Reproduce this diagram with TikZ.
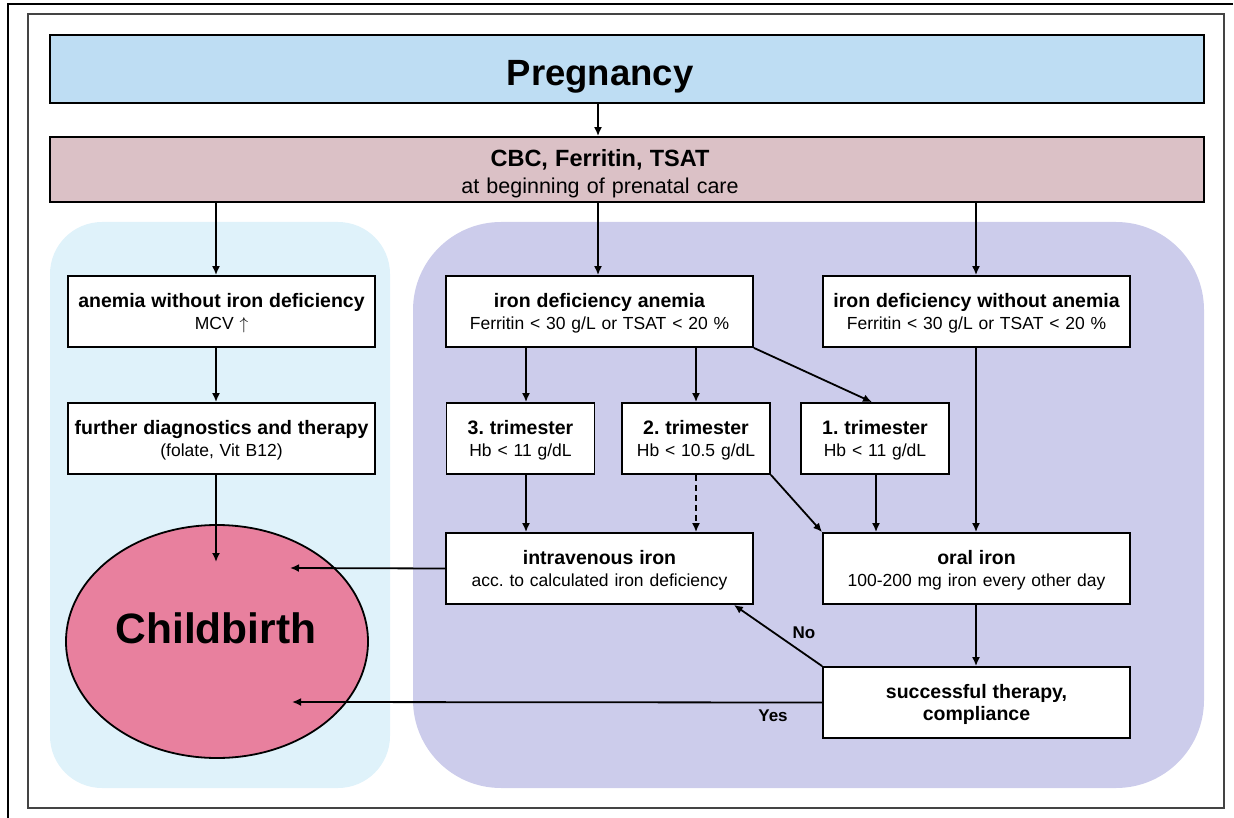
\documentclass[tikz,border=0pt]{standalone}
\usepackage{fontspec}
\setmainfont{Liberation Sans}
\usetikzlibrary{arrows.meta,shapes.geometric,calc}
\definecolor{pregblue}{HTML}{BEDDF3}
\definecolor{cbcrose}{HTML}{DBC1C6}
\definecolor{regblue}{HTML}{DFF2FA}
\definecolor{reglav}{HTML}{CCCCEB}
\definecolor{birthpink}{HTML}{E8809E}
\definecolor{framegray}{HTML}{444444}
\newcommand{\bt}[1]{{\fontsize{19.5}{22}\selectfont\bfseries #1}}
\frenchspacing
\begin{document}
\begin{tikzpicture}[x=1pt,y=-1pt,
  box/.style={draw=black,line width=1.8pt,fill=white,minimum width=307pt,minimum height=71pt,
    inner sep=0pt,align=center,text width=300pt,font=\fontsize{17.5}{22}\selectfont,
    text height=18pt,text depth=25.6pt},
  tribox/.style={box,minimum width=148pt,text width=144pt},
  arr/.style={line width=1.8pt,-{Latex[length=9pt,width=8pt]}},
  lbl/.style={font=\fontsize{17}{20}\selectfont\bfseries,inner sep=0pt}]
\useasboundingbox (0,0) rectangle (1234,818);
% frames
\draw[line width=1.2pt] (8,818) -- (8,4) -- (1233,4);
\draw[framegray,line width=1.6pt] (28,14) rectangle (1224,808);
% regions
\fill[regblue,rounded corners=52pt] (50,222) rectangle (390,788);
\fill[reglav,rounded corners=88pt] (413,222) rectangle (1204,788);
% header boxes
\node[draw=black,line width=2.4pt,fill=pregblue,minimum width=1154pt,minimum height=68pt,inner sep=0pt,
  text height=34pt,text depth=0pt,
  font=\fontsize{36.5}{40}\selectfont\bfseries] (preg) at (627,69) {\hspace*{-54pt}Pregnancy};
\node[draw=black,line width=1.8pt,fill=cbcrose,minimum width=1154pt,minimum height=65pt,inner sep=0pt,
  align=center,text width=1100pt,text height=20pt,text depth=26.2pt,
  font=\fontsize{21.5}{27}\selectfont] (cbc) at (627,169.5)
  {{\fontsize{23.5}{27}\selectfont\bfseries\hspace*{-54pt}CBC, Ferritin, TSAT}\\\hspace*{-54pt}at beginning of prenatal care};
% boxes
\node[box] (awo) at (221.5,311.5) {\bt{anemia without iron deficiency}\\MCV $\uparrow$};
\node[box] (fur) at (221.5,438.5) {\bt{further diagnostics and therapy}\\(folate, Vit B12)};
\node[box] (ida) at (599.5,311.5) {\bt{iron deficiency anemia}\\Ferritin < 30 g/L or TSAT < 20 \%};
\node[box] (idw) at (976.5,311.5) {\bt{iron deficiency without anemia}\\Ferritin < 30 g/L or TSAT < 20 \%};
\node[tribox] (t3) at (520.5,438.5) {\bt{3. trimester}\\Hb < 11 g/dL};
\node[tribox] (t2) at (696,438.5) {\bt{2. trimester}\\Hb < 10.5 g/dL};
\node[tribox] (t1) at (875,438.5) {\bt{1. trimester}\\Hb < 11 g/dL};
\node[box] (iv) at (599.5,568.5) {\bt{intravenous iron}\\acc. to calculated iron deficiency};
\node[box] (oral) at (976.5,568.5) {\bt{oral iron}\\100-200 mg iron every other day};
\node[box] (succ) at (976.5,702.5) {\bt{successful therapy,}\\\bt{compliance}};
% childbirth
\node[ellipse,draw=black,line width=1.8pt,fill=birthpink,minimum width=302pt,minimum height=233pt,inner sep=0pt] (birth) at (217,641.5) {};
\node[font=\fontsize{42.5}{46}\selectfont\bfseries,inner sep=0pt] (birthtxt) at (216,628) {Childbirth};
% connector ends
\coordinate (furend) at (216,562);
\coordinate (ivend) at (290,568);
\coordinate (yesend) at (292,702);
\coordinate (noend) at ($(iv.south east)+(-20,0)$);
\coordinate (t1top) at ($(t1.north)+(-3,0)$);
% arrows
\draw[arr] (preg.south -| 598,0) -- (cbc.north -| 598,0);
\draw[arr] (cbc.south -| 216,0) -- (awo.north -| 216,0);
\draw[arr] (cbc.south -| 598,0) -- (ida.north -| 598,0);
\draw[arr] (cbc.south -| 976,0) -- (idw.north -| 976,0);
\draw[arr] (awo.south -| 216,0) -- (fur.north -| 216,0);
\draw[arr] (fur.south -| furend) -- (furend);
\draw[arr] (ida.south -| 526,0) -- (t3.north -| 526,0);
\draw[arr] (ida.south -| t2.north) -- (t2.north);
\draw[arr] (ida.south east) -- (t1top);
\draw[arr] (t3.south -| 526,0) -- (iv.north -| 526,0);
\draw[arr,dash pattern=on 6pt off 4pt] (t2.south) -- (iv.north -| t2.south);
\draw[arr] (t2.south east) -- (oral.north west);
\draw[arr] (t1.south -| 876,0) -- (oral.north -| 876,0);
\draw[arr] (idw.south -| 976,0) -- (oral.north -| 976,0);
\draw[arr] (oral.south -| 976,0) -- (succ.north -| 976,0);
\draw[arr] (iv.west) -- (ivend);
\draw[arr] (succ.north west) -- (noend);
\draw[arr] (succ.west) -- (yesend);
\node[lbl] (nolbl) at (804,633) {No};
\node[lbl] (yeslbl) at (773,716) {Yes};
\end{tikzpicture}
\end{document}
